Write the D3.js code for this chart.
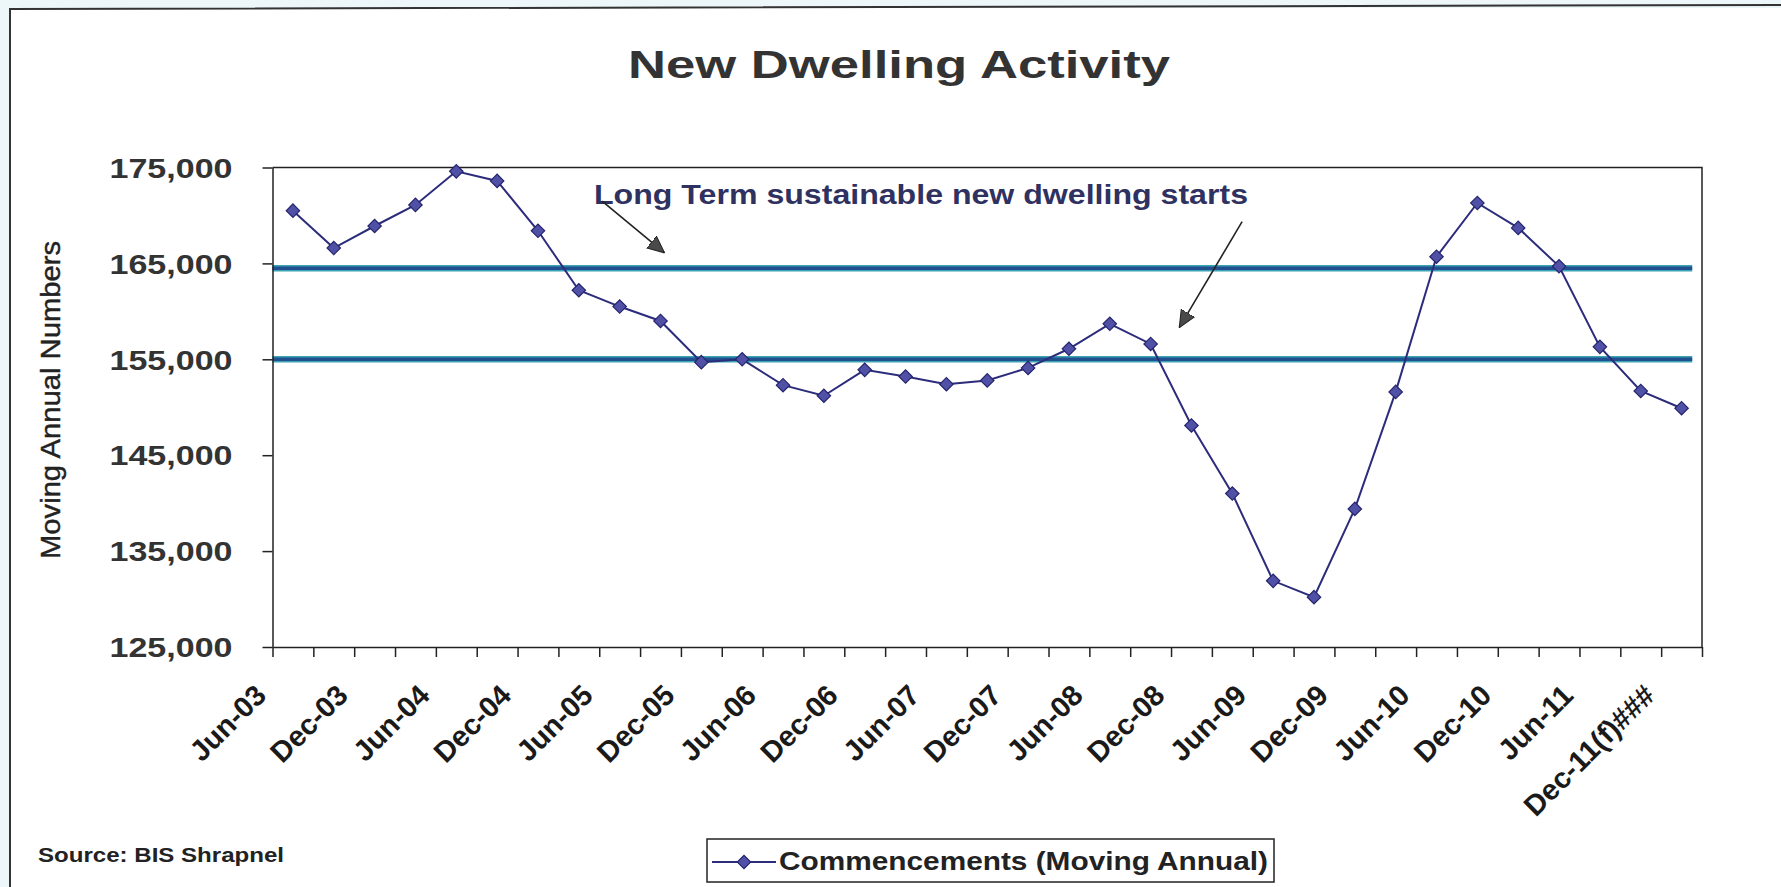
<!DOCTYPE html>
<html>
<head>
<meta charset="utf-8">
<script src="https://cdn.jsdelivr.net/npm/d3@7"></script>
<style>
  html, body { margin: 0; padding: 0; background: #fff; }
  svg { display: block; }
</style>
</head>
<body>
<svg id="chart" width="1781" height="887"></svg>
<script>
// Quarterly moving-annual dwelling commencements, Jun-03 to Dec-11 (forecast)
const categories = ["Jun-03","Sep-03","Dec-03","Mar-04","Jun-04","Sep-04","Dec-04","Mar-05",
  "Jun-05","Sep-05","Dec-05","Mar-06","Jun-06","Sep-06","Dec-06","Mar-07","Jun-07","Sep-07",
  "Dec-07","Mar-08","Jun-08","Sep-08","Dec-08","Mar-09","Jun-09","Sep-09","Dec-09","Mar-10",
  "Jun-10","Sep-10","Dec-10","Mar-11","Jun-11","Sep-11","Dec-11"];
const commencements = [170500,166600,168900,171100,174600,173600,168400,162200,
  160500,159000,154700,155000,152300,151200,153900,153200,152400,152800,
  154100,156100,158700,156600,148100,141000,131900,130200,139400,151600,
  165700,171300,168700,164700,156300,151700,149900];
// Half-yearly labels on the category axis
const xTickLabels = ["Jun-03","Dec-03","Jun-04","Dec-04","Jun-05","Dec-05","Jun-06","Dec-06",
  "Jun-07","Dec-07","Jun-08","Dec-08","Jun-09","Dec-09","Jun-10","Dec-10","Jun-11","Dec-11(f)###"];
const yTicks = [125000,135000,145000,155000,165000,175000];
// Long-term sustainable band of new dwelling starts
const sustainableLevels = [164500, 155000];

const chartTitle = "New Dwelling Activity";
const yAxisTitle = "Moving Annual Numbers";
const noteText = "Long Term sustainable new dwelling starts";
const seriesName = "Commencements (Moving Annual)";
const sourceText = "Source: BIS Shrapnel";

const W = 1781, H = 887;
const FONT = "'Liberation Sans', Arial, Helvetica, sans-serif";
const plot = { left: 272.5, right: 1702, top: 167.5, bottom: 647 };

const svg = d3.select("#chart").attr("font-family", FONT);

// page frame
svg.append("rect").attr("width", W).attr("height", H).attr("fill", "#edf7fa");
svg.append("rect").attr("x", 10).attr("y", 8).attr("width", W - 10).attr("height", H - 8).attr("fill", "#fff");
svg.append("path").attr("d", "M10,887 L10,9 L1781,5")
  .attr("fill", "none").attr("stroke", "#333").attr("stroke-width", 2);

// scales
const x = d3.scaleBand().domain(categories).range([plot.left, plot.right]).padding(0);
const xIdx = d3.scaleLinear().domain([0, categories.length]).range([plot.left, plot.right]);
const y = d3.scaleLinear().domain([125000, 175000]).range([plot.bottom, plot.top]);
const cx = c => x(c) + x.bandwidth() / 2;

// title
svg.append("text").attr("x", 899).attr("y", 78)
  .attr("text-anchor", "middle").attr("font-size", 38).attr("font-weight", "bold")
  .attr("fill", "#333").attr("textLength", 542).attr("lengthAdjust", "spacingAndGlyphs")
  .text(chartTitle);

// plot frame (top and right)
svg.append("path").attr("d", `M${plot.left},${plot.top}H${plot.right}V${plot.bottom}`)
  .attr("fill", "none").attr("stroke", "#222").attr("stroke-width", 1.5);

// sustainable level lines
const levels = svg.append("g");
sustainableLevels.forEach(v => {
  levels.append("line").attr("x1", plot.left).attr("x2", xIdx(34.76))
    .attr("y1", y(v)).attr("y2", y(v)).attr("stroke", "#3aa3b4").attr("stroke-width", 6.5);
  levels.append("line").attr("x1", plot.left).attr("x2", xIdx(34.76))
    .attr("y1", y(v)).attr("y2", y(v)).attr("stroke", "#22508e").attr("stroke-width", 3.5);
});

// y axis
const gy = svg.append("g").attr("transform", `translate(${plot.left},0)`)
  .call(d3.axisLeft(y).tickValues(yTicks).tickFormat(d3.format(","))
    .tickSize(10).tickPadding(30).tickSizeOuter(0));
gy.attr("font-family", FONT).attr("font-size", null);
gy.select(".domain").attr("stroke", "#222").attr("stroke-width", 1.5);
gy.selectAll(".tick line").attr("stroke", "#222").attr("stroke-width", 1.5);
gy.selectAll(".tick text").attr("font-size", 27).attr("font-weight", "bold").attr("fill", "#333")
  .attr("dy", "0.36em").attr("textLength", 123).attr("lengthAdjust", "spacingAndGlyphs");

// x axis: tick marks between categories
const gxTicks = svg.append("g").attr("transform", `translate(0,${plot.bottom})`)
  .call(d3.axisBottom(xIdx).tickValues(d3.range(categories.length + 1))
    .tickFormat("").tickSize(10).tickSizeOuter(0));
gxTicks.select(".domain").attr("stroke", "#222").attr("stroke-width", 1.5);
gxTicks.selectAll(".tick line").attr("stroke", "#222").attr("stroke-width", 1.5);

// x axis: rotated half-yearly labels
const labelCats = xTickLabels.map((t, i) => categories[i * 2]);
const labelFor = new Map(labelCats.map((c, i) => [c, xTickLabels[i]]));
const gxLabels = svg.append("g").attr("transform", `translate(0,${plot.bottom})`)
  .call(d3.axisBottom(x).tickValues(labelCats).tickFormat(c => labelFor.get(c))
    .tickSize(0).tickPadding(0));
gxLabels.attr("font-family", FONT).attr("font-size", null);
gxLabels.select(".domain").remove();
gxLabels.selectAll(".tick text")
  .attr("y", 0).attr("dy", 0).attr("text-anchor", "end")
  .attr("transform", "translate(-25,50) rotate(-45)")
  .attr("font-size", 29).attr("font-weight", "bold").attr("fill", "#1a1a1a");

// y axis title
svg.append("text").attr("transform", "translate(60,400) rotate(-90)")
  .attr("text-anchor", "middle").attr("font-size", 28).attr("fill", "#222")
  .attr("stroke", "#222").attr("stroke-width", 0.4)
  .attr("textLength", 318).attr("lengthAdjust", "spacingAndGlyphs")
  .text(yAxisTitle);

// annotation
const defs = svg.append("defs");
defs.append("marker").attr("id", "arrowhead").attr("viewBox", "0 0 10 10")
  .attr("refX", 10).attr("refY", 5).attr("markerWidth", 17).attr("markerHeight", 17)
  .attr("markerUnits", "userSpaceOnUse").attr("orient", "auto")
  .append("path").attr("d", "M0,0.5 L10,5 L0,9.5 Z").attr("fill", "#4a4a4a").attr("stroke", "#222").attr("stroke-width", 0.6);

svg.append("text").attr("x", 594).attr("y", 204)
  .attr("font-size", 28).attr("font-weight", "bold").attr("fill", "#2f3160")
  .attr("textLength", 654).attr("lengthAdjust", "spacingAndGlyphs")
  .text(noteText);

const arrows = [
  { from: [8.07, 171500], to: [9.6, 166100] },
  { from: [23.74, 169350], to: [22.2, 158300] }
];
arrows.forEach(a => {
  svg.append("line")
    .attr("x1", xIdx(a.from[0])).attr("y1", y(a.from[1]))
    .attr("x2", xIdx(a.to[0])).attr("y2", y(a.to[1]))
    .attr("stroke", "#222").attr("stroke-width", 1.6)
    .attr("marker-end", "url(#arrowhead)");
});

// series line and diamond markers
const LINE = "#2c2c7c", MFILL = "#5050a6", MSTROKE = "#25256e";
svg.append("path").datum(commencements)
  .attr("fill", "none").attr("stroke", LINE).attr("stroke-width", 2)
  .attr("d", d3.line().x((d, i) => cx(categories[i])).y(d => y(d)));

const diamond = d3.symbol(d3.symbolSquare, 90);
svg.append("g").selectAll("path").data(commencements).join("path")
  .attr("d", diamond)
  .attr("transform", (d, i) => `translate(${cx(categories[i])},${y(d)}) rotate(45)`)
  .attr("fill", MFILL).attr("stroke", MSTROKE).attr("stroke-width", 1.2);

// source note
svg.append("text").attr("x", 38).attr("y", 862)
  .attr("font-size", 20).attr("font-weight", "bold").attr("fill", "#222")
  .attr("textLength", 246).attr("lengthAdjust", "spacingAndGlyphs")
  .text(sourceText);

// legend
const lg = svg.append("g");
lg.append("rect").attr("x", 707).attr("y", 839).attr("width", 567).attr("height", 43)
  .attr("fill", "#fff").attr("stroke", "#222").attr("stroke-width", 1.5);
lg.append("line").attr("x1", 712).attr("x2", 776).attr("y1", 862).attr("y2", 862)
  .attr("stroke", LINE).attr("stroke-width", 2);
lg.append("path").attr("d", diamond).attr("transform", "translate(744,862) rotate(45)")
  .attr("fill", MFILL).attr("stroke", MSTROKE).attr("stroke-width", 1.2);
lg.append("text").attr("x", 779).attr("y", 870)
  .attr("font-size", 25).attr("font-weight", "bold").attr("fill", "#222")
  .attr("textLength", 489).attr("lengthAdjust", "spacingAndGlyphs")
  .text(seriesName);
</script>
</body>
</html>
